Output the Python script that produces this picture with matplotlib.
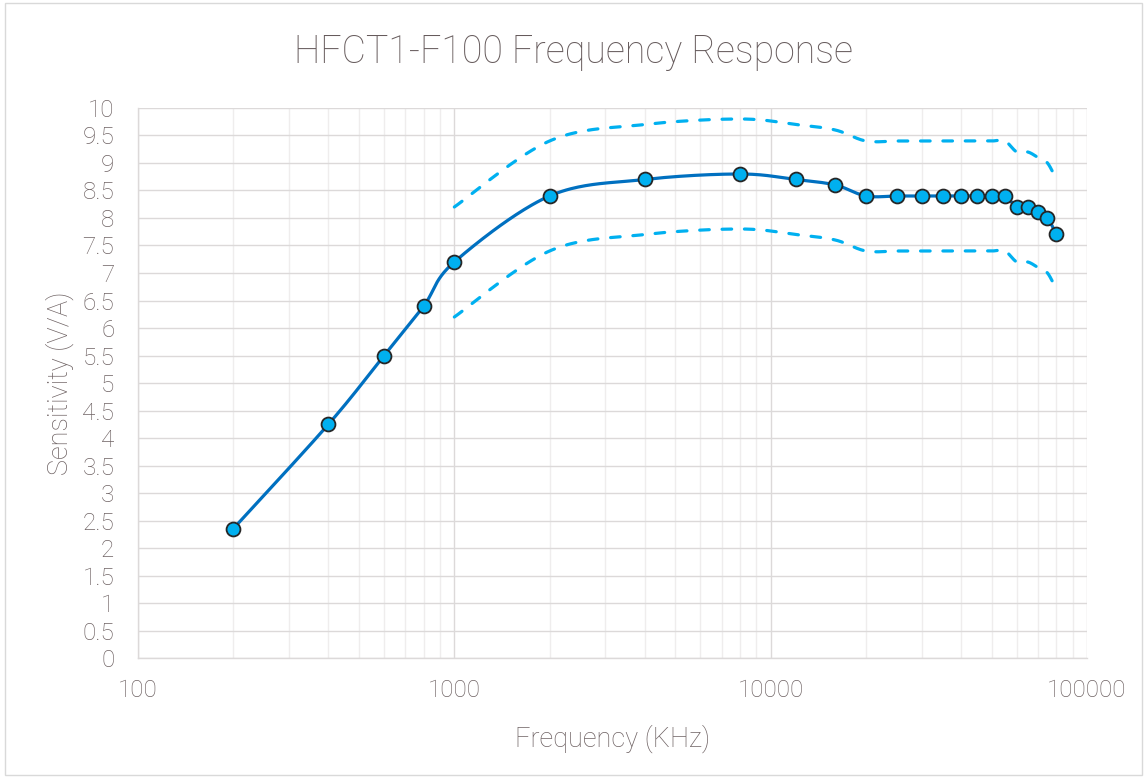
import numpy as np
import matplotlib
matplotlib.use("Agg")
import matplotlib.pyplot as plt
from matplotlib.patches import Rectangle
from matplotlib.ticker import FixedLocator, NullFormatter, MultipleLocator, FuncFormatter

plt.rcParams['font.family'] = ['Roboto', 'DejaVu Sans']

freq = [200, 400, 600, 800, 1000, 2000, 4000, 8000, 12000, 16000, 20000, 25000,
        30000, 35000, 40000, 45000, 50000, 55000, 60000, 65000, 70000, 75000, 80000]
sens = [2.35, 4.25, 5.5, 6.4, 7.2, 8.4, 8.7, 8.8, 8.7, 8.6, 8.4, 8.4,
        8.4, 8.4, 8.4, 8.4, 8.4, 8.4, 8.2, 8.2, 8.1, 8.0, 7.7]
band_freq = [1000, 2000, 4000, 8000, 12000, 16000, 20000, 25000, 30000, 35000,
             40000, 45000, 50000, 55000, 60000, 65000, 70000, 75000, 80000]
upper = [8.2, 9.4, 9.7, 9.8, 9.7, 9.6, 9.4, 9.4, 9.4, 9.4, 9.4, 9.4, 9.4, 9.4,
         9.2, 9.2, 9.1, 9.0, 8.7]
lower = [6.2, 7.4, 7.7, 7.8, 7.7, 7.6, 7.4, 7.4, 7.4, 7.4, 7.4, 7.4, 7.4, 7.4,
         7.2, 7.2, 7.1, 7.0, 6.7]

title = "HFCT1-F100 Frequency Response"
xlabel = "Frequency (KHz)"
ylabel = "Sensitivity (V/A)"
xticks = [100, 1000, 10000, 100000]

SX, SY = 316.3, 55.0  # px per decade, px per unit (for screen-space smoothing)


def smooth(xs, ys, n=40):
    u = np.log10(np.array(xs, float)) * SX
    v = np.array(ys, float) * SY
    P = np.column_stack([u, v])
    out = []
    m = len(P)
    for i in range(m - 1):
        p0 = P[i - 1] if i > 0 else P[i]
        p1 = P[i]
        p2 = P[i + 1]
        p3 = P[i + 2] if i + 2 < m else P[i + 1]
        c1 = p1 + (p2 - p0) / 6.0
        c2 = p2 - (p3 - p1) / 6.0
        t = np.linspace(0, 1, n, endpoint=(i == m - 2))[:, None]
        seg = ((1 - t) ** 3) * p1 + 3 * ((1 - t) ** 2) * t * c1 + 3 * (1 - t) * t ** 2 * c2 + t ** 3 * p2
        out.append(seg)
    out = np.vstack(out)
    return 10 ** (out[:, 0] / SX), out[:, 1] / SY


fig = plt.figure(figsize=(11.47, 7.78), dpi=100)
fig.patches.append(Rectangle((0.004, 0.004), 0.992, 0.992, transform=fig.transFigure,
                             fill=False, edgecolor='#d9d9d9', linewidth=1.0))
ax = fig.add_axes([0.1203, 0.1542, 0.8274, 0.7070])
ax.set_xscale('log')
ax.set_xlim(100, 100000)
ax.set_ylim(0, 10)

text_color = '#6f6364'
grid_major = '#dcd9d9'
grid_minor = '#efeded'

ax.xaxis.set_major_locator(FixedLocator(xticks))
ax.xaxis.set_major_formatter(FuncFormatter(lambda v, p: f"{int(round(v))}"))
minors = [m * 10 ** e for e in range(2, 5) for m in range(2, 10)]
ax.xaxis.set_minor_locator(FixedLocator(minors))
ax.xaxis.set_minor_formatter(NullFormatter())
ax.yaxis.set_major_locator(MultipleLocator(0.5))
ax.yaxis.set_major_formatter(FuncFormatter(lambda v, p: f"{v:g}"))

ax.grid(True, which='major', axis='both', color=grid_major, linewidth=1.0, zorder=0)
ax.grid(True, which='minor', axis='x', color=grid_minor, linewidth=1.0, zorder=0)
ax.set_axisbelow(True)

for s in ['top', 'right']:
    ax.spines[s].set_visible(False)
for s in ['left', 'bottom']:
    ax.spines[s].set_color(grid_major)
    ax.spines[s].set_linewidth(1.0)

ax.tick_params(axis='both', which='both', length=0, colors=text_color, labelsize=17.5)
ax.tick_params(axis='y', pad=17)
ax.tick_params(axis='x', pad=15)
for lbl in ax.get_xticklabels() + ax.get_yticklabels():
    lbl.set_fontweight('light')

ux, uy = smooth(band_freq, upper)
lx, ly = smooth(band_freq, lower)
ax.plot(ux, uy, color='#00b0f0', linewidth=2.3, dashes=(3, 4), dash_capstyle='round', zorder=2)
ax.plot(lx, ly, color='#00b0f0', linewidth=2.3, dashes=(3, 4), dash_capstyle='round', zorder=2)

mx, my = smooth(freq, sens)
ax.plot(mx, my, color='#0070c0', linewidth=2.3, zorder=3, solid_capstyle='round')
ax.plot(freq, sens, linestyle='none', marker='o', markersize=10,
        markerfacecolor='#00b0f0', markeredgecolor='#262626', markeredgewidth=1.3, zorder=4)

ax.set_xlabel(xlabel, fontsize=19.5, color=text_color, fontweight='light', labelpad=16)
ax.set_ylabel(ylabel, fontsize=19.5, color=text_color, fontweight='light', labelpad=6)
fig.text(0.5, 0.933, title, ha='center', va='center', fontsize=27, color='#665b5c', fontweight='light')

fig.savefig('out.png', dpi=100, facecolor='white')
